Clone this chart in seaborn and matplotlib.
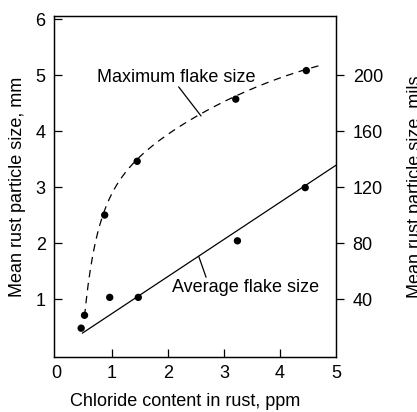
import numpy as np
import pandas as pd
import matplotlib
matplotlib.use("Agg")
import matplotlib.pyplot as plt
import seaborn as sns

# Measured points (chloride in ppm, particle size in mm)
max_x = [0.51, 0.87, 1.45, 3.21, 4.47]
max_y = [0.71, 2.50, 3.46, 4.57, 5.08]
avg_x = [0.45, 0.96, 1.47, 3.24, 4.45]
avg_y = [0.48, 1.03, 1.03, 2.04, 2.99]

# Hand-drawn trend through the maximum flake sizes
curve_x = [0.51, 0.60, 0.75, 0.87, 1.09, 1.45, 1.56, 1.81, 2.23, 2.60, 3.21, 4.47, 4.71]
curve_y = [0.60, 1.59, 2.25, 2.50, 2.96, 3.46, 3.64, 3.89, 4.16, 4.27, 4.57, 5.08, 5.21]
# Straight trend line through the average flake sizes
line_x = [0.47, 5.0]
line_y = [0.39, 3.39]

x_ticks = [0, 1, 2, 3, 4, 5]
mm_ticks = [1, 2, 3, 4, 5, 6]
mils_ticks = [40, 80, 120, 160, 200]

sns.set_theme(style="ticks")
plt.rcParams["font.family"] = ["Liberation Sans", "DejaVu Sans"]
plt.rcParams.update({
    "axes.linewidth": 0.9,
    "text.color": "black",
    "axes.labelcolor": "black",
    "xtick.color": "black",
    "ytick.color": "black",
    "axes.edgecolor": "black",
})
FS = 13

fig = plt.figure(figsize=(4.17, 4.12), dpi=100)
ax = fig.add_axes([54 / 417, 1 - 357 / 412, 282 / 417, 341 / 412])

# smooth dashed curve from the traced trend
lx = np.log(curve_x)
coef = np.polyfit(lx, curve_y, 4)
gx = np.linspace(min(curve_x), max(curve_x), 200)
curve_df = pd.DataFrame({"x": gx, "y": np.polyval(coef, np.log(gx))})
sns.lineplot(data=curve_df, x="x", y="y", ax=ax, color="black", lw=0.9,
             dashes=False, linestyle=(0, (6, 4.5)), sort=False)

line_df = pd.DataFrame({"x": line_x, "y": line_y})
sns.lineplot(data=line_df, x="x", y="y", ax=ax, color="black", lw=0.9)

pts = pd.DataFrame({"x": max_x + avg_x, "y": max_y + avg_y})
sns.scatterplot(data=pts, x="x", y="y", ax=ax, color="black", s=28,
                edgecolor="none", zorder=5)

ax.set_xlim(-0.035, 5.0)
ax.set_ylim(-0.035, 6.055)
ax.set_xticks(x_ticks)
ax.set_yticks(mm_ticks)
ax.tick_params(axis="x", direction="in", length=6, width=0.9, pad=6,
               labelsize=FS)
ax.tick_params(axis="y", direction="in", length=6, width=0.9, pad=6,
               labelsize=FS)
xt = ax.xaxis.get_major_ticks()
xt[0].tick1line.set_visible(False)
xt[-1].tick1line.set_visible(False)
ax.yaxis.get_major_ticks()[-1].tick1line.set_visible(False)

ax.set_xlabel("")
ax.set_ylabel("Mean rust particle size, mm", fontsize=FS, labelpad=7)
fig.text(185.5 / 417, 1 - 402 / 412, "Chloride content in rust, ppm",
         ha="center", va="center", fontsize=FS)

ax2 = ax.twinx()
ax2.set_ylim(-0.035 * 40, 6.055 * 40)
ax2.set_yticks(mils_ticks)
ax2.tick_params(axis="y", direction="out", length=6, width=0.9, pad=6,
                labelsize=FS)
ax2.set_ylabel("Mean rust particle size, mils", fontsize=FS, labelpad=17)
for a in (ax, ax2):
    for s in a.spines.values():
        s.set_visible(True)
        s.set_linewidth(0.9)
        s.set_color("black")

# labels with leader lines
ax.text(2.14, 4.96, "Maximum flake size", ha="center", va="center", fontsize=FS)
ax.plot([2.19, 2.59], [4.79, 4.27], color="black", lw=0.9)
ax.text(3.39, 1.21, "Average flake size", ha="center", va="center", fontsize=FS)
ax.plot([2.55, 2.68], [1.76, 1.39], color="black", lw=0.9)

fig.savefig("out.png", dpi=100)
